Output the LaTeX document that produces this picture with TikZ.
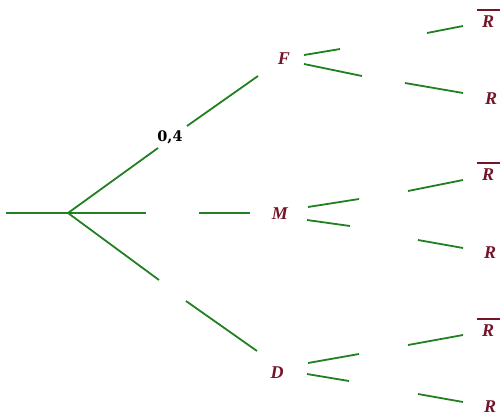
\documentclass[tikz,border=0pt]{standalone}
\usepackage{fontspec}
\setmainfont{Liberation Serif}
\newfontfamily\probfont{DejaVu Serif}
\definecolor{brgreen}{rgb}{0.13,0.50,0.13}
\definecolor{lblred}{rgb}{0.45,0.08,0.16}
\newcommand{\barR}{\vbox{\offinterlineskip\hbox to 23pt{\leaders\hrule height 1.8pt\hfill}\kern4.5pt\hbox to 23pt{\hss R\hss}}}
\tikzset{
  br/.style={draw=brgreen,line width=1.8pt},
  lbl/.style={text=lblred,font=\fontsize{18}{20}\selectfont\bfseries\itshape,inner sep=0pt},
  prob/.style={text=black,font=\probfont\fontsize{14.5}{16}\selectfont\bfseries,inner sep=0pt}
}
\begin{document}
\begin{tikzpicture}[x=1pt,y=-1pt]
\useasboundingbox (0,0) rectangle (504,416);
% nodes
\coordinate (root) at (68,213);
\coordinate (start) at (6,213);
\node[lbl] (F) at (284,58.5) {F};
\node[lbl] (M) at (280,214) {M};
\node[lbl] (D) at (277,372.5) {D};
\node[lbl,anchor=base] (FRb) at (488,27) {\barR};
\node[lbl] (FR) at (491,98.5) {R};
\node[lbl,anchor=base] (MRb) at (488,180) {\barR};
\node[lbl] (MR) at (490,253) {R};
\node[lbl,anchor=base] (DRb) at (488,336) {\barR};
\node[lbl] (DR) at (490,407) {R};
\node[prob] (p) at (170,137.5) {0,4};
% segment end points
\coordinate (a1) at (158,148); \coordinate (a2) at (187,126); \coordinate (a3) at (258,76);
\coordinate (b1) at (146,213); \coordinate (b2) at (199,213); \coordinate (b3) at (250,213);
\coordinate (c1) at (159,280); \coordinate (c2) at (186,301); \coordinate (c3) at (257,351);
% first level
\draw[br] (start) -- (root);
\draw[br] (root) -- (a1);
\draw[br] (a2) -- (a3);
\draw[br] (root) -- (b1);
\draw[br] (b2) -- (b3);
\draw[br] (root) -- (c1);
\draw[br] (c2) -- (c3);
% F branches
\coordinate (f1) at (304,55); \coordinate (f2) at (340,49);
\coordinate (f3) at (427,33); \coordinate (f4) at (463,26);
\coordinate (f5) at (304,64); \coordinate (f6) at (362,76);
\coordinate (f7) at (405,83); \coordinate (f8) at (463,93);
\draw[br] (f1) -- (f2); \draw[br] (f3) -- (f4);
\draw[br] (f5) -- (f6); \draw[br] (f7) -- (f8);
% M branches
\coordinate (m1) at (308,207); \coordinate (m2) at (359,199);
\coordinate (m3) at (408,191); \coordinate (m4) at (463,180);
\coordinate (m5) at (307,220); \coordinate (m6) at (350,226);
\coordinate (m7) at (418,240); \coordinate (m8) at (463,248);
\draw[br] (m1) -- (m2); \draw[br] (m3) -- (m4);
\draw[br] (m5) -- (m6); \draw[br] (m7) -- (m8);
% D branches
\coordinate (d1) at (308,363); \coordinate (d2) at (359,354);
\coordinate (d3) at (408,345); \coordinate (d4) at (463,335);
\coordinate (d5) at (307,374); \coordinate (d6) at (349,381);
\coordinate (d7) at (418,394); \coordinate (d8) at (463,402);
\draw[br] (d1) -- (d2); \draw[br] (d3) -- (d4);
\draw[br] (d5) -- (d6); \draw[br] (d7) -- (d8);
\end{tikzpicture}
\end{document}
